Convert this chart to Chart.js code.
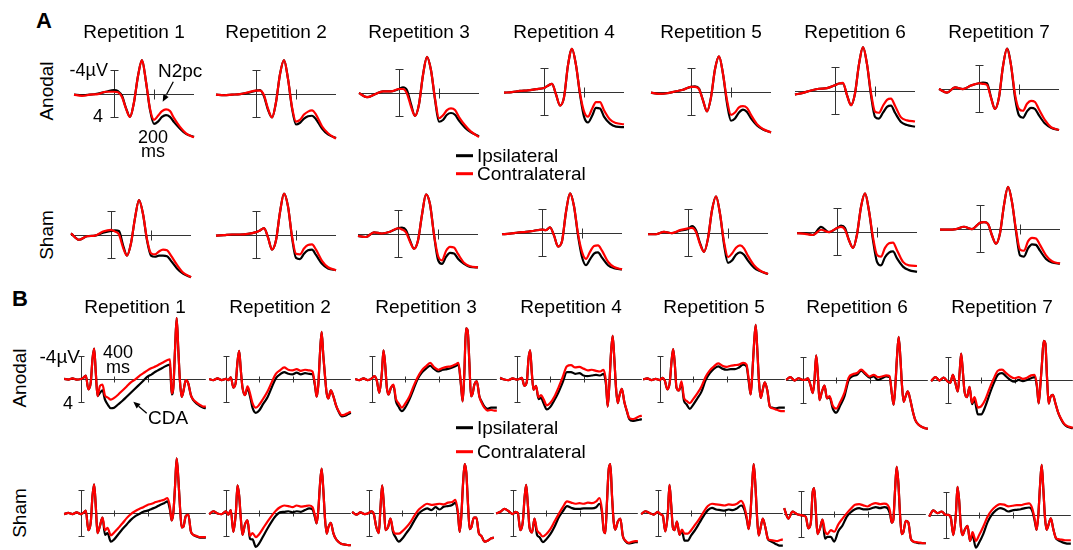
<!DOCTYPE html>
<html lang="en">
<head>
<meta charset="UTF-8">
<title>Ipsilateral / contralateral ERPs by repetition</title>
<script src="https://cdn.jsdelivr.net/npm/chart.js"></script>
<style>
  body { margin:0; width:1073px; height:550px; background:#fff; position:relative; overflow:hidden;
         font-family:"Liberation Sans", Arial, sans-serif; color:#000; }
  .panel { position:absolute; }
  .txt { position:absolute; white-space:nowrap; line-height:1; }
</style>
</head>
<body>
<svg id="marks" width="1073" height="550" style="position:absolute;left:0;top:0"></svg>
<script>
// ---- data (µV, negative up as usual for ERPs) ----
const repetitions = ['Repetition 1','Repetition 2','Repetition 3','Repetition 4','Repetition 5','Repetition 6','Repetition 7'];

// panel A: ms after search display
const timesA = [-200,-160,-120,-80,-40,0,20,40,60,80,100,120,140,160,180,200,220,240,260,280,300,330,360,400];
const ticksA = [200];

const anodalIpsiA = [
  [0.2,0.3,0.2,0,-0.3,-0.6,-0.4,0.4,2.5,4.0,1.5,-3.0,-5.7,-2.0,2.8,5.2,4.8,4.0,3.7,4.0,4.9,6.0,6.9,7.4],
  [0.2,0.3,0.2,0.1,-0.1,-0.5,-0.6,0.5,2.8,4.1,1.5,-3.3,-5.7,-2.5,2.5,5.3,5.0,4.3,3.9,3.8,4.4,6.0,7.0,7.6],
  [0.1,0.8,0.3,-0.2,-0.2,-0.6,-0.9,-0.4,2.0,4.0,2.0,-3.0,-6.1,-3.8,1.2,5.0,4.7,3.8,3.5,3.8,4.8,6.0,6.8,7.5],
  [0.2,0.1,-0.1,-0.2,-0.4,-0.6,-1.0,-1.3,0.5,2.4,1.0,-4.5,-7.3,-4.5,0.5,4.3,5.3,4.2,2.8,2.9,4.3,5.5,6.0,6.1],
  [0.2,0.4,0.3,0,-0.3,-0.8,-0.9,-0.5,1.5,3.4,1.0,-3.8,-6.0,-3.0,2.0,5.0,4.6,3.6,3.1,3.5,4.6,5.8,6.5,7.0],
  [0.7,0.4,0,-0.3,-0.4,-0.9,-1.2,-1.2,0.8,2.5,0.5,-4.5,-7.4,-4.5,0.8,4.5,4.8,3.8,2.8,2.6,3.8,5.4,5.9,6.2],
  [0.1,0.7,-0.2,0.1,-0.5,-0.9,-1.0,-0.9,1.5,3.5,1.5,-3.8,-6.8,-4.0,1.5,4.6,5.0,3.9,3.3,3.5,4.6,6.0,6.7,7.1]
];
const anodalContraA = [
  [0.2,0.4,0.2,0.1,-0.3,-0.3,-0.2,0.6,2.6,4.0,1.5,-3.0,-5.7,-2.0,2.6,4.5,3.8,3.0,2.7,3.0,4.2,5.7,6.8,7.5],
  [0.2,0.3,0.2,0.1,-0.2,-0.5,-0.5,0.3,2.6,4.1,1.5,-3.3,-5.7,-2.5,2.3,4.8,4.5,3.6,3.1,2.9,3.6,5.6,6.8,7.7],
  [0.1,0.8,0.3,-0.2,-0.2,-0.6,-0.6,0.2,2.4,4.0,2.0,-3.0,-6.1,-3.8,1.0,4.4,3.9,3.0,2.7,3.0,4.2,5.6,6.7,7.6],
  [0.2,0.1,-0.1,-0.2,-0.4,-0.6,-1.0,-1.3,0.5,2.4,1.0,-4.5,-7.3,-4.5,0.3,3.4,4.3,3.0,1.8,1.8,3.2,4.8,5.4,5.6],
  [0.2,0.4,0.3,0,-0.3,-0.8,-0.8,-0.4,1.5,3.4,1.0,-3.8,-6.0,-3.0,1.5,4.0,3.6,2.7,2.5,2.8,4.0,5.6,6.4,7.0],
  [0.7,0.4,0,-0.3,-0.4,-0.9,-1.2,-1.3,0.8,2.5,0.5,-4.5,-7.4,-4.5,0.4,3.6,3.8,2.6,1.6,1.4,2.6,4.6,5.1,5.3],
  [0.1,0.7,-0.2,0.1,-0.5,-0.9,-0.8,-0.6,1.6,3.5,1.5,-3.8,-6.8,-4.0,1.0,3.5,3.8,2.6,2.1,2.3,3.6,5.4,6.6,7.1]
];
const shamIpsiA = [
  [-0.2,0.9,0.3,0.2,-0.3,-0.6,-0.7,-0.6,1.8,3.6,1.5,-2.8,-5.9,-3.5,1.0,3.6,3.8,3.6,3.6,3.7,4.5,5.8,6.7,7.3],
  [0.2,0.1,0,0,-0.1,-0.4,-0.7,-1.1,0.5,2.6,1.0,-3.8,-7.0,-4.8,0.5,4.0,4.2,3.3,2.7,2.6,3.5,5.0,5.8,6.1],
  [0.4,0.6,-0.2,0,-0.3,-0.9,-1.0,-0.6,1.2,2.6,1.2,-3.2,-6.7,-5.0,0.2,4.5,5.2,4.0,3.3,3.4,4.3,5.2,5.7,5.8],
  [0.3,0.2,0,-0.1,-0.3,-0.5,-0.4,-0.9,0.5,2.4,1.5,-3.5,-6.7,-4.5,0.5,4.2,5.6,4.6,3.6,3.4,4.3,5.6,6.1,6.3],
  [0.3,0.3,-0.1,0.1,-0.3,-0.6,-1.1,-0.4,1.8,3.3,1.0,-3.8,-6.2,-3.2,2.0,5.2,4.8,3.8,3.4,3.8,4.8,6.0,6.6,7.1],
  [0.3,0.3,0.6,-0.8,0.1,-0.6,-1.0,-0.6,1.5,2.8,0.5,-4.2,-6.5,-3.5,1.5,5.2,5.8,4.4,3.6,3.4,4.6,6.0,6.6,6.9],
  [0.2,0.2,0.1,-0.3,0.1,-1.0,-1.1,-0.8,1.2,2.6,0.8,-4.0,-7.1,-4.5,0.5,4.6,4.8,3.4,2.7,2.8,3.8,5.2,5.8,6.0]
];
const shamContraA = [
  [-0.2,0.9,0.3,0.2,-0.5,-0.8,-0.5,0,2.2,3.6,1.5,-2.8,-5.9,-3.5,0.8,3.2,3.4,2.9,2.6,2.7,3.6,5.2,6.5,7.3],
  [0.2,0.1,0,0,-0.1,-0.4,-0.7,-1.1,0.5,2.6,1.0,-3.8,-7.0,-4.8,0.3,3.3,3.4,2.4,1.8,1.7,2.6,4.5,5.6,6.1],
  [0.4,0.6,-0.2,0,-0.3,-0.9,-0.7,-0.2,1.4,2.6,1.2,-3.2,-6.7,-5.0,0.2,3.8,4.6,3.0,2.3,2.4,3.5,5.0,5.6,5.8],
  [0.3,0.2,0,-0.1,-0.3,-0.5,-0.4,-0.9,0.5,2.4,1.5,-3.5,-6.7,-4.5,0.2,3.3,4.5,3.3,2.3,2.2,3.1,5.0,5.9,6.3],
  [0.3,0.3,-0.1,0.1,-0.4,-0.7,-0.8,-0.1,2.0,3.3,1.0,-3.8,-6.2,-3.2,1.6,4.2,3.6,2.6,2.2,2.7,4.0,5.6,6.5,7.1],
  [0.3,0.4,0.6,-0.3,0.1,-0.6,-0.8,-0.3,1.5,2.8,0.5,-4.2,-6.5,-3.5,1.0,4.0,4.3,2.8,2.0,1.9,3.2,5.2,5.8,5.9],
  [0.2,0.2,0.1,-0.3,0.1,-1.0,-1.1,-0.8,1.2,2.6,0.8,-4.0,-7.1,-4.5,0.2,3.6,3.8,2.2,1.6,1.7,2.8,4.6,5.6,6.0]
];

// panel B: ms after memory array
const timesB = [-200,-150,-100,-50,0,30,60,90,120,140,160,180,200,230,260,290,320,360,400,450,500,550,600,650,700,750,800,850,900,950,1000,1040,1070,1090,1110,1130,1150,1170,1190,1210,1230,1260,1290,1320,1350,1390,1430,1470,1500];
const ticksB = [400, 800];

const anodalIpsiB = [
  [0,0.1,-0.1,0.1,0,-0.2,-0.6,1.8,0.5,-3.5,-5.3,-1.0,3.0,2.4,2.0,3.6,4.4,5.1,5.0,4.4,3.8,3.1,2.4,1.7,1.0,0.3,-0.4,-0.8,-1.3,-1.7,-2.1,-2.4,-2.5,2.7,1.5,-5.0,-10.6,-5.0,0.5,3.1,2.2,0.2,0.8,2.8,3.7,4.3,4.7,5.0,5.1],
  [0,0.2,-0.1,0.2,0,0.2,-0.3,1.5,0.5,-3.0,-4.9,-1.5,1.5,2.8,1.6,3.0,5.0,5.9,5.5,4.3,3.2,1.5,-0.1,-0.8,-1.2,-0.9,-0.8,-1.1,-0.8,-1.0,-0.9,-0.8,1.2,3.1,1.0,-4.5,-8.2,-4.0,-0.5,2.5,3.4,2.0,3.0,4.5,5.6,6.5,6.4,6.1,5.9],
  [0,0.2,-0.1,0.2,-0.1,-0.5,0.3,2.4,-1.0,-5.0,-2.5,1.5,2.7,1.5,1.2,3.9,4.8,5.6,5.0,3.6,1.8,0,-1.1,-1.8,-2.3,-1.7,-1.3,-1.6,-1.7,-1.9,-2.2,-2.5,1.2,3.9,-1.0,-8.8,-8.4,-3.0,3.0,2.5,1.0,0.4,3.0,4.0,4.8,5.2,5.0,5.0,5.0],
  [-0.2,0.1,0.2,-0.1,0.1,0,-0.2,1.2,0.5,-3.5,-5.0,-1.0,1.9,1.2,3.5,3.3,4.2,5.3,4.9,3.7,2.3,0.6,-1.2,-1.2,-0.9,-1.0,-0.6,-0.5,-0.6,-0.7,-0.6,-0.9,1.0,4.8,1.0,-4.5,-7.5,-3.5,1.5,4.2,3.0,1.7,4.0,5.6,7.0,7.3,7.2,7.1,7.0],
  [0.1,-0.1,0.2,0,0.2,-0.2,0.3,1.8,0.5,-3.0,-5.2,-2.5,1.5,2.0,0.8,3.8,4.4,5.2,4.5,3.4,2.2,0.2,-1.0,-1.8,-2.2,-1.8,-1.6,-1.7,-1.7,-2.0,-2.5,-2.2,0.8,2.7,-1.0,-6.0,-9.4,-5.0,0.5,3.3,2.2,0.6,2.0,4.8,5.0,5.1,5.0,5.0,5.0],
  [0,-0.5,0.1,-0.3,0,0,-0.3,0.8,2.3,0,-4.3,-1.0,3.5,2.0,1.0,3.2,3.0,5.0,5.7,4.4,2.8,0,-0.7,-0.9,-1.6,-1.0,-0.4,-0.6,0,-0.3,-0.6,-0.5,2.6,4.3,1.0,-4.0,-7.5,-4.0,1.0,3.8,3.0,2.0,3.5,5.5,7.0,7.8,8.2,8.4,8.5],
  [0.2,-0.5,0.1,-0.4,0.3,0.5,-0.9,0.5,2.0,-1.0,-4.6,-1.5,2.0,3.0,1.2,4.2,3.5,6.0,6.0,4.6,2.5,0.6,-0.9,-1.2,-0.6,0,0.3,0,0.2,0,-0.3,-0.5,1.3,4.1,1.0,-3.0,-6.8,-6.4,-0.5,4.1,3.0,2.6,4.0,5.5,6.6,7.6,8.1,8.3,8.4]
];
const anodalContraB = [
  [0,0.1,-0.1,0.1,0,-0.2,-0.6,1.8,0.5,-3.5,-5.3,-1.0,3.0,1.2,1.0,2.9,3.2,3.6,3.3,2.7,2.0,1.3,0.6,0.1,-0.5,-1.0,-1.5,-1.9,-2.2,-2.6,-3.0,-3.3,-3.4,2.5,1.5,-5.0,-10.6,-5.0,0.5,3.1,2.2,0.2,0.8,2.8,3.6,4.1,4.5,4.8,4.8],
  [0,0.2,-0.1,0.2,0,0.2,-0.3,1.5,0.5,-3.0,-4.9,-1.5,1.5,2.8,1.3,2.5,4.2,5.0,4.5,3.4,2.2,0.6,-0.9,-1.5,-2.0,-1.6,-1.5,-1.7,-1.4,-1.6,-1.5,-1.3,1.0,3.1,1.0,-4.5,-8.2,-4.0,-0.5,2.5,3.4,2.0,3.0,4.5,5.5,6.3,6.2,5.9,5.7],
  [0,0.2,-0.1,0.2,-0.1,-0.5,0.3,2.4,-1.0,-5.0,-2.5,1.5,2.7,1.5,1.0,3.5,4.2,5.0,4.3,3.1,1.3,-0.3,-1.5,-2.2,-2.8,-2.0,-1.6,-1.9,-2.1,-2.2,-2.5,-2.8,1.0,3.9,-1.0,-8.8,-8.4,-3.0,3.0,2.5,1.0,0.4,3.0,4.2,5.0,5.5,5.4,5.5,5.5],
  [-0.2,0.1,0.2,-0.1,0.1,0,-0.2,1.2,0.5,-3.5,-5.0,-1.0,1.9,1.2,3.2,2.8,3.5,4.6,4.2,3.1,1.5,-0.3,-2.2,-2.4,-2.0,-2.1,-1.8,-1.5,-1.6,-1.4,-1.3,-1.6,0.5,4.8,1.0,-4.5,-7.5,-3.5,1.5,4.2,3.0,1.7,4.0,5.5,6.8,7.0,6.8,6.5,6.4],
  [0.1,-0.1,0.2,0,0.2,-0.2,0.3,1.8,0.5,-3.0,-5.2,-2.5,1.5,2.0,0.4,3.3,3.8,4.2,3.5,2.5,1.3,-0.4,-1.5,-2.2,-2.7,-2.3,-2.1,-2.3,-2.4,-2.5,-2.8,-2.5,0.5,2.7,-1.0,-6.0,-9.4,-5.0,0.5,3.3,2.2,0.6,2.0,4.8,5.1,5.3,5.5,5.6,5.6],
  [0,-0.5,0.1,-0.3,0,0,-0.3,0.8,2.3,0,-4.3,-1.0,3.5,2.0,1.0,3.2,2.8,4.5,5.0,3.8,2.2,-0.4,-1.0,-1.2,-1.8,-1.2,-0.6,-0.9,-0.5,-0.6,-0.8,-0.7,2.5,4.3,1.0,-4.0,-7.5,-4.0,1.0,3.8,3.0,2.0,3.5,5.5,7.0,7.8,8.2,8.4,8.5],
  [0.2,-0.5,0.1,-0.4,0.3,0.5,-0.9,0.5,2.0,-1.0,-4.6,-1.5,2.0,3.0,1.2,4.0,3.0,4.8,4.6,3.4,1.5,-0.2,-1.6,-1.8,-1.2,-0.6,-0.3,-0.5,-0.2,-0.4,-0.8,-0.9,1.0,4.1,1.0,-3.0,-6.8,-6.4,-0.5,4.1,3.0,2.6,4.0,5.5,6.5,7.5,8.0,8.2,8.3]
];
const shamIpsiB = [
  [0.2,0,0.2,-0.1,0.2,0,-0.4,3.0,1.5,-3.0,-5.0,-1.0,3.5,2.2,0.8,3.8,3.5,5.0,4.6,3.7,2.8,2.0,1.2,0.6,0.2,-0.2,-0.4,-0.7,-1.0,-1.4,-1.7,-2.0,-0.5,1.3,0,-4.5,-9.5,-6.0,-1.0,2.5,2.4,0.5,0.3,3.2,3.8,4.1,4.3,4.3,4.3],
  [0.2,-0.3,0.1,0.2,-0.3,0.3,-0.5,3.3,0,-4.8,-3.0,1.0,3.8,2.0,1.3,4.5,4.6,5.9,5.3,4.0,2.7,1.5,0.5,-0.1,-0.2,-0.3,-0.1,-0.3,-0.2,-0.5,-0.8,-0.6,0.8,1.8,-0.5,-5.0,-7.7,-4.0,1.0,3.6,2.5,1.7,3.5,4.5,5.0,5.4,5.5,5.6,5.6],
  [-0.2,0.3,-0.1,0.2,0,-0.3,0.2,2.5,3.5,-1.0,-4.8,-1.5,3.0,2.5,1.0,3.3,4.2,5.0,4.5,3.5,2.5,1.2,0.1,-0.5,-0.8,-0.5,-1.0,-0.6,-1.1,-1.2,-1.4,-1.8,0.3,3.3,0.5,-5.0,-8.5,-7.0,-1.5,2.8,2.5,0.8,0.8,3.5,4.0,5.0,4.8,4.4,4.3],
  [0.1,-0.2,-0.7,-0.3,0.2,-0.2,0,3.0,1.5,-2.5,-4.9,-1.5,2.5,3.4,1.0,3.8,4.2,5.1,4.6,3.7,2.4,0.8,-0.3,-1.2,-0.9,-0.7,-0.7,-0.8,-0.8,-0.8,-1.0,-1.6,0,3.0,3.5,-2.0,-7.5,-8.5,-3.0,1.5,2.9,1.5,1.0,4.0,4.9,5.3,5.2,5.1,5.1],
  [0.2,-0.3,0,0.3,-0.2,0.2,0.5,3.2,0,-4.9,-1.5,2.5,3.0,1.5,3.8,3.2,4.8,4.8,3.9,2.9,1.7,0.5,-0.5,-0.9,-0.6,-0.5,-0.4,-0.6,-0.5,-0.8,-1.3,-0.5,1.3,2.8,0.5,-4.5,-8.5,-5.0,0.5,3.9,2.8,1.0,2.5,4.5,4.9,5.2,5.5,5.7,5.7],
  [-1.0,0.8,-0.4,0,0.2,0.3,0.5,2.5,1.5,-3.5,-4.5,-0.5,3.5,2.5,1.0,4.3,4.0,4.0,4.8,3.0,2.0,0.5,-0.3,-0.8,-1.0,-0.8,-0.8,-1.0,-1.2,-1.0,-1.2,-1.0,0,1.5,1.0,-4.0,-8.2,-5.5,0,3.5,3.2,1.2,1.5,4.3,4.8,5.0,5.1,5.1,5.1],
  [0.3,-0.8,-0.3,-0.6,0,0,0.5,3.5,0,-4.9,-2.5,2.0,3.5,2.5,1.9,4.5,3.5,5.7,4.8,3.3,1.3,0,-0.8,-1.2,-1.0,-0.6,-0.8,-0.9,-1.0,-1.2,-1.3,-0.6,1.3,2.6,0,-5.0,-8.7,-4.5,0.5,2.6,1.8,0.6,2.5,4.0,4.4,4.7,4.9,5.0,5.0]
];
const shamContraB = [
  [0.2,0,0.2,-0.1,0.2,0,-0.4,3.0,1.5,-3.0,-5.0,-1.0,3.5,2.2,0.8,3.0,2.6,3.9,3.4,2.6,1.8,0.9,0.2,-0.3,-0.7,-1.0,-1.4,-1.6,-1.9,-2.1,-2.3,-2.6,-1.0,1.3,0,-4.5,-9.5,-6.0,-1.0,2.5,2.4,0.5,0.3,3.2,3.8,4.0,4.2,4.2,4.2],
  [0.2,-0.3,0.1,0.2,-0.3,0.3,-0.5,3.3,0,-4.8,-3.0,1.0,3.8,2.0,1.3,4.0,3.5,4.2,3.7,2.6,1.5,0.5,-0.4,-1.0,-1.3,-1.2,-1.0,-1.3,-1.1,-1.2,-1.3,-1.0,0.5,1.8,-0.5,-5.0,-7.7,-4.0,1.0,3.6,2.5,1.7,3.5,4.5,5.0,5.4,5.5,5.6,5.6],
  [-0.2,0.3,-0.1,0.2,0,-0.3,0.2,2.5,3.5,-1.0,-4.8,-1.5,3.0,2.5,1.0,3.0,3.6,3.6,3.2,2.5,1.6,0.4,-0.6,-1.2,-1.6,-1.4,-1.5,-1.6,-1.5,-1.8,-1.9,-2.3,0,3.3,0.5,-5.0,-8.5,-7.0,-1.5,2.8,2.5,0.8,0.8,3.5,4.0,5.0,4.8,4.4,4.3],
  [0.1,-0.2,-0.7,-0.3,0.2,-0.2,0,3.0,1.5,-2.5,-4.9,-1.5,2.5,3.4,1.0,3.0,3.5,4.1,3.7,2.8,1.5,0.2,-1.0,-2.0,-1.8,-1.6,-1.7,-1.6,-1.8,-1.7,-2.0,-2.6,-0.5,3.0,3.5,-2.0,-7.5,-8.5,-3.0,1.5,2.9,1.5,1.0,4.0,4.8,5.2,5.0,4.9,4.9],
  [0.2,-0.3,0,0.3,-0.2,0.2,0.5,3.2,0,-4.9,-1.5,2.5,3.0,1.5,3.8,2.9,3.6,3.6,3.0,2.0,1.0,-0.2,-1.2,-1.6,-1.5,-1.4,-1.3,-1.5,-1.4,-1.6,-2.1,-1.0,1.0,2.8,0.5,-4.5,-8.5,-5.0,0.5,3.9,2.8,1.0,2.5,4.5,4.7,4.8,4.9,4.7,4.6],
  [-1.0,0.8,-0.4,0,0.2,0.3,0.5,2.5,1.5,-3.5,-4.5,-0.5,3.5,2.5,1.0,3.0,3.5,2.8,3.1,1.8,0.8,-0.1,-0.9,-1.6,-1.7,-1.5,-1.3,-1.7,-1.9,-1.7,-1.8,-1.6,-0.5,1.5,1.0,-4.0,-8.2,-5.5,0,3.5,3.2,1.2,1.5,4.3,4.8,4.9,5.0,5.1,5.1],
  [0.3,-0.8,-0.3,-0.6,0,0,0.5,3.5,0,-4.9,-2.5,2.0,3.5,2.5,1.9,4.5,3.0,4.5,3.5,2.0,0.3,-0.8,-1.5,-1.9,-1.8,-1.5,-1.6,-1.7,-1.7,-1.9,-2.0,-1.0,1.0,2.6,0,-5.0,-8.7,-4.5,0.5,2.6,1.8,0.6,2.5,4.0,4.2,4.3,4.4,4.4,4.4]
];

// ---- layout: x of the 0 ms scale bar, y of the 0 µV line (page px) ----
const barA1 = [114, 256, 399, 544, 691, 835, 979], baseA1 = [93.3, 93.3, 92.7, 91.7, 91.7, 90, 88.7];
const barA2 = [111, 256, 398, 542, 688, 837, 980], baseA2 = [234, 234, 233.3, 232.3, 232.7, 231.7, 228.3];
const barB1 = [81, 226, 372, 517, 660, 803, 948], baseB1 = [379, 378.7, 379.3, 379.3, 379.3, 380, 380];
const barB2 = [81, 226, 369, 513, 658, 801, 946], baseB2 = [512.7, 512.7, 513, 513.3, 513.3, 514, 514.5];

const RED = '#ff0000', BLACK = '#000000';

const axisMarks = {
  id: 'axisMarks',
  beforeDatasetsDraw(chart, args, o) {
    const ctx = chart.ctx, xs = chart.scales.x, ys = chart.scales.y;
    const y0 = Math.round(ys.getPixelForValue(0)) + 0.5;
    const xb = Math.round(xs.getPixelForValue(0)) + 0.5;
    const yt = Math.round(ys.getPixelForValue(-4)) + 0.5;
    const yb = Math.round(ys.getPixelForValue(4)) + 0.5;
    ctx.save();
    ctx.strokeStyle = '#333';
    ctx.lineWidth = 1;
    ctx.beginPath();
    ctx.moveTo(xs.getPixelForValue(o.from), y0);
    ctx.lineTo(xs.getPixelForValue(o.to), y0);
    ctx.moveTo(xb, yt); ctx.lineTo(xb, yb);
    ctx.moveTo(xb - o.cap, yt); ctx.lineTo(xb + o.cap, yt);
    ctx.moveTo(xb - o.cap, yb); ctx.lineTo(xb + o.cap, yb);
    o.ticks.forEach(function (t) {
      const xt = Math.round(xs.getPixelForValue(t)) + 0.5;
      ctx.moveTo(xt, y0 - o.tickLen); ctx.lineTo(xt, y0 + o.tickLen);
    });
    ctx.stroke();
    ctx.restore();
  }
};

function makePanel(left, top, w, h, xr, yr, times, ipsi, contra, marks) {
  const div = document.createElement('div');
  div.className = 'panel';
  div.style.left = Math.round(left) + 'px';
  div.style.top = Math.round(top) + 'px';
  const cv = document.createElement('canvas');
  cv.width = w; cv.height = h;
  cv.style.width = w + 'px'; cv.style.height = h + 'px';
  div.appendChild(cv);
  document.body.appendChild(div);

  new Chart(cv, {
    type: 'line',
    data: {
      datasets: [
        { label: 'Contralateral', data: times.map((t, i) => ({ x: t, y: contra[i] })), borderColor: RED },
        { label: 'Ipsilateral', data: times.map((t, i) => ({ x: t, y: ipsi[i] })), borderColor: BLACK }
      ]
    },
    options: {
      responsive: false, animation: false, devicePixelRatio: 1, events: [],
      layout: { padding: 0 },
      elements: { point: { radius: 0 }, line: { borderWidth: 2.2, cubicInterpolationMode: 'monotone', fill: false } },
      plugins: { legend: { display: false }, tooltip: { enabled: false }, axisMarks: marks },
      scales: {
        x: { type: 'linear', display: false, min: xr[0], max: xr[1] },
        y: { type: 'linear', display: false, min: yr[0], max: yr[1], reverse: true }
      }
    },
    plugins: [axisMarks]
  });
}

// panel A geometry: 0.2 px/ms, ~5.85 px/µV
function panelA(bar, base, ipsi, contra) {
  makePanel(bar - 44, base - 58.5, 128, 117, [-220, 420], [-10, 10], timesA, ipsi, contra,
    { from: -200, to: 400, ticks: ticksA, cap: 4, tickLen: 5 });
}
// panel B geometry: 1 px per 12 ms, ~5.75 px/µV
function panelB(bar, base, ipsi, contra) {
  makePanel(bar - 250 / 12, base - 69, 150, 127, [-250, 1550], [-12, 10.1], timesB, ipsi, contra,
    { from: -200, to: 1500, ticks: ticksB, cap: 3, tickLen: 3 });
}

for (let r = 0; r < 7; r++) {
  panelA(barA1[r], baseA1[r], anodalIpsiA[r], anodalContraA[r]);
  panelA(barA2[r], baseA2[r], shamIpsiA[r], shamContraA[r]);
  panelB(barB1[r], baseB1[r], anodalIpsiB[r], anodalContraB[r]);
  panelB(barB2[r], baseB2[r], shamIpsiB[r], shamContraB[r]);
}

// ---- text ----
function label(text, x, baseline, size, align, extra) {
  const d = document.createElement('div');
  d.className = 'txt';
  d.textContent = text;
  d.style.fontSize = size + 'px';
  d.style.left = x + 'px';
  d.style.top = (baseline - 0.8465 * size) + 'px';
  if (align === 'center') d.style.transform = 'translateX(-50%)';
  if (align === 'right') d.style.transform = 'translateX(-100%)';
  if (extra) Object.assign(d.style, extra);
  document.body.appendChild(d);
}
function vlabel(text, cx, cy, size) {
  const d = document.createElement('div');
  d.className = 'txt';
  d.textContent = text;
  d.style.fontSize = size + 'px';
  d.style.left = cx + 'px';
  d.style.top = cy + 'px';
  d.style.transform = 'translate(-50%,-50%) rotate(-90deg)';
  document.body.appendChild(d);
}

for (let r = 0; r < 7; r++) {
  label(repetitions[r], barA1[r] + 20, 38.5, 19, 'center');
  label(repetitions[r], barB1[r] + 54, 313.5, 19, 'center');
}
label('A', 36, 28.5, 22, 'left', { fontWeight: 'bold' });
label('B', 12, 307, 22, 'left', { fontWeight: 'bold' });

vlabel('Anodal', 46, 90.5, 19);
vlabel('Sham', 46, 234.5, 19);
vlabel('Anodal', 18.5, 378, 19);
vlabel('Sham', 18.5, 512.5, 19);

// A annotations
label('-4µV', 108, 76.5, 18, 'right');
label('4', 103, 122, 18, 'right');
label('200', 153, 143, 18, 'center');
label('ms', 153, 157, 18, 'center');
label('N2pc', 158, 77, 19, 'left');
// B annotations
label('-4µV', 80, 363, 19, 'right');
label('400', 118, 358, 18, 'center');
label('ms', 118, 373, 18, 'center');
label('4', 73, 409.5, 18, 'right');
label('CDA', 148, 424.5, 19, 'left');

// legends
label('Ipsilateral', 477, 162.5, 19, 'left');
label('Contralateral', 477, 180.5, 19, 'left');
label('Ipsilateral', 477, 434.5, 19, 'left');
label('Contralateral', 477, 458.5, 19, 'left');

// legend keys and arrows (svg)
const svg = document.getElementById('marks');
function svgEl(tag, attrs) {
  const e = document.createElementNS('http://www.w3.org/2000/svg', tag);
  for (const k in attrs) e.setAttribute(k, attrs[k]);
  svg.appendChild(e);
}
[[155.7, BLACK], [173.7, RED], [427.7, BLACK], [451.7, RED]].forEach(function (k) {
  svgEl('line', { x1: 456, x2: 473, y1: k[0], y2: k[0], stroke: k[1], 'stroke-width': 3 });
});
function arrow(x1, y1, x2, y2) {
  const a = Math.atan2(y2 - y1, x2 - x1), L = 7, W = 3;
  const bx = x2 - L * Math.cos(a), by = y2 - L * Math.sin(a);
  svgEl('line', { x1: x1, y1: y1, x2: bx, y2: by, stroke: '#000', 'stroke-width': 1.3 });
  const px = -Math.sin(a) * W, py = Math.cos(a) * W;
  svgEl('polygon', { points: `${x2},${y2} ${bx + px},${by + py} ${bx - px},${by - py}`, fill: '#000' });
}
arrow(173.3, 81.7, 162.7, 101.7);
arrow(146.7, 413.3, 133.3, 401.7);
</script>
</body>
</html>
